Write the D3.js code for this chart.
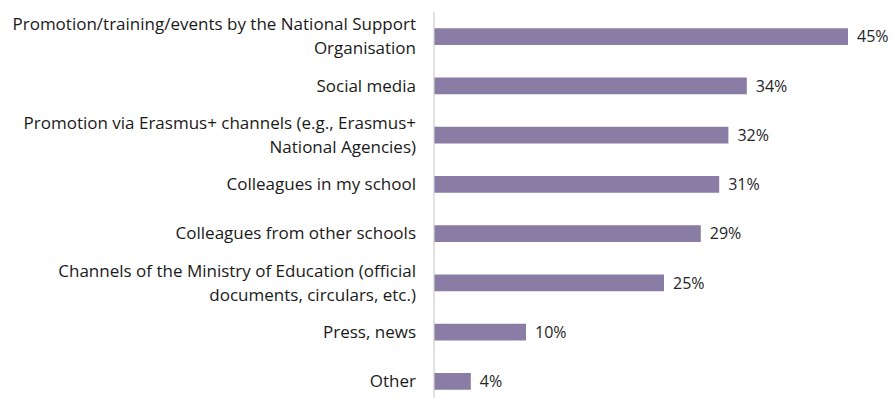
<!DOCTYPE html>
<html>
<head>
<meta charset="utf-8">
<script src="https://cdn.jsdelivr.net/npm/d3@7"></script>
<style>
  html, body { margin: 0; padding: 0; background: #fff; }
  svg { display: block; }
  text { font-family: "Open Sans", Lato, sans-serif; }
</style>
</head>
<body>
<svg id="chart" width="894" height="398"></svg>
<script>
// Sources through which respondents heard about the initiative (% of respondents)
const categories = [
  "Promotion/training/events by the National Support Organisation",
  "Social media",
  "Promotion via Erasmus+ channels (e.g., Erasmus+ National Agencies)",
  "Colleagues in my school",
  "Colleagues from other schools",
  "Channels of the Ministry of Education (official documents, circulars, etc.)",
  "Press, news",
  "Other"
];
const values = [45, 34, 32, 31, 29, 25, 10, 4];
// Category labels broken into display lines
const labelLines = [
  ["Promotion/training/events by the National Support", "Organisation"],
  ["Social media"],
  ["Promotion via Erasmus+ channels (e.g., Erasmus+", "National Agencies)"],
  ["Colleagues in my school"],
  ["Colleagues from other schools"],
  ["Channels of the Ministry of Education (official", "documents, circulars, etc.)"],
  ["Press, news"],
  ["Other"]
];

const svg = d3.select("#chart");
const x0 = 434;

const x = d3.scaleLinear().domain([0, 45]).range([x0, 848]);
const y = d3.scaleBand().domain(categories).range([12, 406]).paddingInner(0.66).paddingOuter(0.33);

// Vertical category axis line
svg.append("line")
  .attr("x1", x0).attr("x2", x0)
  .attr("y1", 12).attr("y2", 398)
  .attr("stroke", "#d9d9d9").attr("stroke-width", 1.5);

// Bars
svg.append("g").selectAll("rect")
  .data(categories)
  .join("rect")
  .attr("x", x0 + 0.5)
  .attr("y", d => y(d))
  .attr("width", (d, i) => x(values[i]) - x0 - 0.5)
  .attr("height", y.bandwidth())
  .attr("fill", "#8a7da5");

// Value labels
svg.append("g").selectAll("text")
  .data(categories)
  .join("text")
  .attr("x", (d, i) => x(values[i]) + 9)
  .attr("y", d => y(d) + y.bandwidth() / 2)
  .attr("dy", "0.36em")
  .attr("font-size", 16)
  .attr("fill", "#262626")
  .text((d, i) => values[i] + "%");

// Category labels (right-aligned, multi-line)
const lineH = 24;
const labels = svg.append("g").selectAll("text")
  .data(categories)
  .join("text")
  .attr("text-anchor", "end")
  .attr("font-size", 17)
  .attr("fill", "#1a1a1a")
  .attr("y", d => y(d) + y.bandwidth() / 2);

labels.each(function(d, i) {
  const lines = labelLines[i];
  const t = d3.select(this);
  const cy = y(d) + y.bandwidth() / 2;
  lines.forEach((ln, j) => {
    t.append("tspan")
      .attr("x", 416)
      .attr("y", cy + (j - (lines.length - 1) / 2) * lineH)
      .attr("dy", "0.34em")
      .text(ln);
  });
});
</script>
</body>
</html>
